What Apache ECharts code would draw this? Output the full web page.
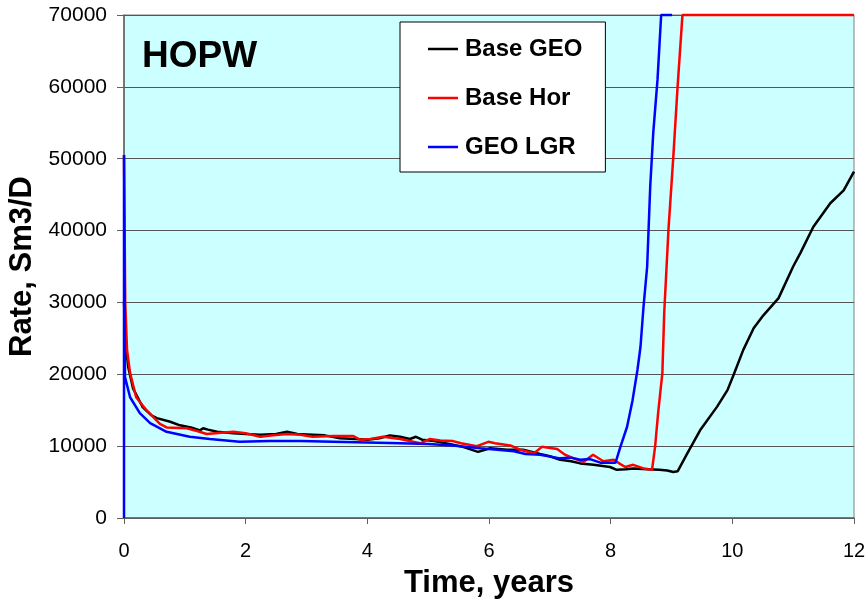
<!DOCTYPE html>
<html>
<head>
<meta charset="utf-8">
<script src="https://cdn.jsdelivr.net/npm/echarts@6/dist/echarts.min.js"></script>
<style>
html,body{margin:0;padding:0;background:#fff;}
#c{width:868px;height:604px;}
</style>
</head>
<body>
<div id="c"></div>
<script>
// ---- data (time in years, rate in Sm3/D) ----
var seriesNames = ['Base GEO', 'Base Hor', 'GEO LGR'];
var xTicks = [0, 2, 4, 6, 8, 10, 12];
var yTicks = [0, 10000, 20000, 30000, 40000, 50000, 60000, 70000];

var baseGeo = [
  [0,30000],[0.03,24000],[0.07,21000],[0.15,18000],[0.31,15400],[0.45,14300],[0.54,13900],
  [0.76,13400],[0.92,12900],[1.1,12600],[1.25,12200],[1.3,12500],[1.38,12300],[1.53,12000],
  [1.8,11800],[2.0,11700],[2.24,11600],[2.5,11700],[2.68,12000],[2.85,11700],[3.1,11600],
  [3.3,11500],[3.55,11100],[3.8,11000],[4.0,10900],[4.2,11100],[4.37,11500],[4.54,11300],
  [4.7,11000],[4.8,11300],[4.9,10900],[5.1,10700],[5.41,10200],[5.57,9900],[5.82,9200],
  [6.02,9700],[6.3,9500],[6.56,9500],[6.84,8900],[7.0,8600],[7.17,8100],[7.35,7900],
  [7.5,7600],[7.72,7400],[7.99,7100],[8.1,6700],[8.25,6800],[8.37,6900],[8.6,6800],
  [8.8,6700],[8.93,6600],[9.03,6400],[9.1,6500],[9.26,9000],[9.47,12200],[9.75,15500],
  [9.92,17800],[10.02,19900],[10.18,23400],[10.35,26400],[10.51,28200],[10.76,30600],
  [11.0,35000],[11.12,36900],[11.33,40500],[11.61,43800],[11.83,45600],[12,48200]
];
var baseHor = [
  [0,50500],[0.02,30000],[0.05,23400],[0.1,20200],[0.2,16800],[0.37,15000],[0.59,13100],
  [0.7,12600],[1.03,12500],[1.2,12100],[1.36,11700],[1.5,11800],[1.8,12000],[2.0,11800],
  [2.24,11300],[2.45,11500],[2.68,11700],[2.9,11600],[3.1,11300],[3.44,11400],[3.77,11400],
  [3.88,10900],[4.05,11000],[4.26,11300],[4.54,11000],[4.87,10400],[5.03,11000],[5.2,10800],
  [5.41,10700],[5.54,10400],[5.8,10000],[5.99,10600],[6.1,10400],[6.35,10100],[6.51,9500],
  [6.74,9000],[6.87,9900],[7.12,9600],[7.25,8800],[7.39,8300],[7.55,7800],[7.71,8800],
  [7.88,7900],[8.05,8100],[8.16,7500],[8.24,7100],[8.37,7400],[8.54,6900],[8.68,6700],
  [8.73,9900],[8.78,14600],[8.85,20200],[8.88,28500],[8.95,40100],[9.03,50300],[9.1,60000],
  [9.18,70000],[12,70000]
];
var geoLgr = [
  [0,0],[0,50500],[0.016,19600],[0.1,16800],[0.26,14600],[0.43,13200],[0.7,12000],
  [1.08,11300],[1.41,11000],[1.9,10600],[2.4,10700],[2.9,10700],[3.44,10600],[4.0,10500],
  [4.54,10400],[5.0,10300],[5.4,10100],[5.86,9700],[6.41,9300],[6.6,8900],[6.84,8800],
  [7.17,8300],[7.35,8400],[7.5,8100],[7.66,8200],[7.83,7700],[8.08,7700],[8.16,9900],
  [8.27,12700],[8.36,16400],[8.44,20600],[8.49,23800],[8.54,29400],[8.6,35000],
  [8.65,46100],[8.7,53600],[8.77,61000],[8.83,70000],[9.01,70000]
];
var seriesData = [baseGeo, baseHor, geoLgr];
var seriesColors = ['#000000', '#FF0000', '#0000FF'];

var FONT = '"Liberation Sans", Arial, Helvetica, sans-serif';
var chart = echarts.init(document.getElementById('c'), null, {renderer: 'canvas'});

var option = {
  animation: false,
  grid: {
    left: 124, right: 14, top: 15, bottom: 86,
    outerBoundsMode: 'none', containLabel: false,
    show: true, backgroundColor: '#CCFFFF', borderColor: '#808080', borderWidth: 1
  },
  legend: {
    data: seriesNames.map(function (n) { return {name: n, icon: 'rect'}; }),
    orient: 'vertical',
    left: 400, top: 22,
    backgroundColor: '#FFFFFF',
    borderColor: '#000000', borderWidth: 1,
    padding: [15, 23, 13, 28],
    itemWidth: 30, itemHeight: 2.5, itemGap: 25,
    textStyle: {fontFamily: FONT, fontWeight: 'bold', fontSize: 24, lineHeight: 24, color: '#000', padding: [0,0,0,2]}
  },
  graphic: [{
    type: 'text', left: 142, top: 38,
    style: {text: 'HOPW', font: 'bold 37px ' + FONT, fill: '#000'}
  }],
  xAxis: {
    type: 'value', min: 0, max: 12, interval: 2,
    name: 'Time, years', nameLocation: 'middle', nameGap: 50,
    nameTextStyle: {fontFamily: FONT, fontWeight: 'bold', fontSize: 31, color: '#000'},
    axisLine: {show: true, onZero: false, lineStyle: {color: '#606060', width: 1.5}},
    axisTick: {show: true, length: 6, lineStyle: {color: '#606060', width: 1}},
    axisLabel: {fontFamily: FONT, fontSize: 20, color: '#000', margin: 23,
      formatter: function (v) { return xTicks.indexOf(v) >= 0 ? String(v) : ''; }},
    splitLine: {show: false}
  },
  yAxis: {
    type: 'value', min: 0, max: 70000, interval: 10000,
    name: 'Rate, Sm3/D', nameLocation: 'middle', nameGap: 84, nameRotate: 90,
    nameTextStyle: {fontFamily: FONT, fontWeight: 'bold', fontSize: 31, color: '#000'},
    axisLine: {show: true, onZero: false, lineStyle: {color: '#606060', width: 1.5}},
    axisTick: {show: true, length: 7, lineStyle: {color: '#606060', width: 1}},
    axisLabel: {fontFamily: FONT, fontSize: 21, color: '#000', margin: 17,
      formatter: function (v) { return yTicks.indexOf(v) >= 0 ? String(v) : ''; }},
    splitLine: {show: true, lineStyle: {color: '#555555', width: 1}}
  },
  series: seriesNames.map(function (n, i) {
    return {
      name: n, type: 'line', data: seriesData[i],
      symbol: 'none', clip: false,
      lineStyle: {color: seriesColors[i], width: 2.5},
      itemStyle: {color: seriesColors[i]}
    };
  })
};
chart.setOption(option);
</script>
</body>
</html>
